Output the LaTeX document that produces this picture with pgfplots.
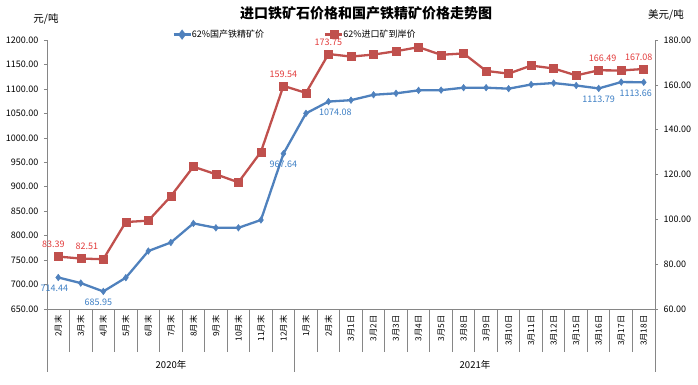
\documentclass[border=0pt]{standalone}
\usepackage{fontspec}
\setmainfont{Noto Sans CJK SC}
\usepackage{pgfplots}
\usepackage{pgfplotstable}
\pgfplotsset{compat=1.18}
\definecolor{bl}{HTML}{4F81BD}
\definecolor{rd}{HTML}{C0504D}
\definecolor{bltxt}{HTML}{3C7EC4}
\definecolor{rdtxt}{HTML}{E23B3B}
\definecolor{ax}{HTML}{868686}

\pgfplotstableread{
x blue red
0 714.44 83.39
1 703 82.51
2 685.95 82.2
3 714 98.8
4 768.5 99.4
5 786 110.3
6 825 123.5
7 816 120.1
8 816 116.5
9 832 130.1
10 967.64 159.54
11 1050 156.4
12 1074.08 173.75
13 1077 172.6
14 1088 173.5
15 1091 175.0
16 1097 176.8
17 1097.5 173.4
18 1102.5 174.0
19 1102.5 166.2
20 1100.5 165.0
21 1109 168.6
22 1112 167.3
23 1107 164.2
24 1101 166.49
25 1114 166.4
26 1113.66 167.08
}\data

\pgfplotstableread{
x y lab dx
0 714.44 714.44 -4
2 685.95 685.95 -5
10 967.64 967.64 0
12 1074.08 1074.08 7
24 1101 1113.79 0
26 1113.66 1113.66 -8
}\bluelab

\pgfplotstableread{
x y lab dx
0 83.39 83.39 -5
1 82.51 82.51 6
10 159.54 159.54 0
12 173.75 173.75 0
24 166.49 166.49 4
26 167.08 167.08 -5
}\redlab

\begin{document}
\begin{tikzpicture}[x=1pt,y=1pt]
\useasboundingbox (0,0) rectangle (698,384);
\begin{axis}[
  at={(47pt,75pt)}, anchor=south west,
  scale only axis, width=608pt, height=269pt,
  xmin=-0.5, xmax=26.5, ymin=650, ymax=1200,
  ytick={650,700,...,1200},
  axis y line*=left, axis x line*=bottom,
  xtick={0,...,26},
  xticklabels={2月末,3月末,4月末,5月末,6月末,7月末,8月末,9月末,10月末,11月末,12月末,1月末,2月末,3月1日,3月2日,3月3日,3月4日,3月5日,3月8日,3月9日,3月10日,3月11日,3月12日,3月15日,3月16日,3月17日,3月18日},
  x tick label style={rotate=90, anchor=east, font=\fontsize{8.3}{9}\selectfont},
  major x tick style={draw=none},
  y tick label style={font=\fontsize{9}{10}\selectfont, xshift=-2pt},
  /pgf/number format/.cd, fixed, fixed zerofill, precision=2, 1000 sep={}, assume math mode=true,
  /pgfplots/.cd,
  axis line style={ax, line width=0.6pt},
  y tick style={ax, line width=0.6pt},
  tick align=outside, major tick length=3pt,
  clip=false,
]
\addplot[bl, line width=2.3pt, mark=diamond*, mark size=3.3pt, mark options={fill=bl, draw=bl, line width=0.5pt}] table[x=x,y=blue]{\data};
\addplot[only marks, mark=none, nodes near coords, point meta=explicit symbolic,
  visualization depends on={\thisrow{dx} \as \dx},
  every node near coord/.append style={anchor=north, yshift=-4pt, xshift=\dx pt, text=bltxt, font=\fontsize{9}{10}\selectfont}]
  table[x=x,y=y,meta=lab]{\bluelab};
\end{axis}
\begin{axis}[
  at={(47pt,75pt)}, anchor=south west,
  scale only axis, width=608pt, height=269pt,
  xmin=-0.5, xmax=26.5, ymin=60, ymax=180,
  ytick={60,80,...,180},
  axis y line*=right, axis x line=none,
  y tick label style={font=\fontsize{9}{10}\selectfont, xshift=2pt},
  /pgf/number format/.cd, fixed, fixed zerofill, precision=2, assume math mode=true,
  /pgfplots/.cd,
  axis line style={ax, line width=0.6pt},
  y tick style={ax, line width=0.6pt},
  tick align=outside, major tick length=3pt,
  clip=false,
  legend columns=2,
  legend style={at={(0.408,1.02)}, anchor=center, draw=none, fill=none,
    font=\fontsize{9}{10}\selectfont, /tikz/every even column/.append style={column sep=58pt},
    /tikz/every odd column/.append style={column sep=-2pt}},
  legend cell align=left,
]
\addlegendimage{bl, line width=2.3pt, mark=diamond*, mark size=3.3pt, mark options={fill=bl}}
\addlegendentry{62\%国产铁精矿价}
\addplot[rd, line width=2.3pt, mark=square*, mark size=4pt, mark options={fill=rd, draw=rd, line width=0.5pt}] table[x=x,y=red]{\data};
\addlegendentry{62\%进口矿到岸价}
\addplot[only marks, mark=none, nodes near coords, point meta=explicit symbolic,
  visualization depends on={\thisrow{dx} \as \dx},
  every node near coord/.append style={anchor=south, yshift=5pt, xshift=\dx pt, text=rdtxt, font=\fontsize{9}{10}\selectfont}]
  table[x=x,y=y,meta=lab]{\redlab};
\end{axis}
\foreach \k in {1,...,26} {\draw[ax, line width=0.6pt] ({47+22.5*\k},75) -- ({47+22.5*\k},32);}
\foreach \xx in {47,294.5,655} {\draw[ax, line width=0.6pt] (\xx,75) -- (\xx,12);}
\node[font=\fontsize{9.5}{10}\selectfont] at (171,19) {2020年};
\node[font=\fontsize{9.5}{10}\selectfont] at (475,19) {2021年};
\node[font=\fontsize{14}{15}\selectfont\bfseries] at (366,371) {进口铁矿石价格和国产铁精矿价格走势图};
\node[font=\fontsize{10.5}{11}\selectfont] at (46,365) {元/吨};
\node[font=\fontsize{10.5}{11}\selectfont] at (666,369) {美元/吨};
\end{tikzpicture}
\end{document}
